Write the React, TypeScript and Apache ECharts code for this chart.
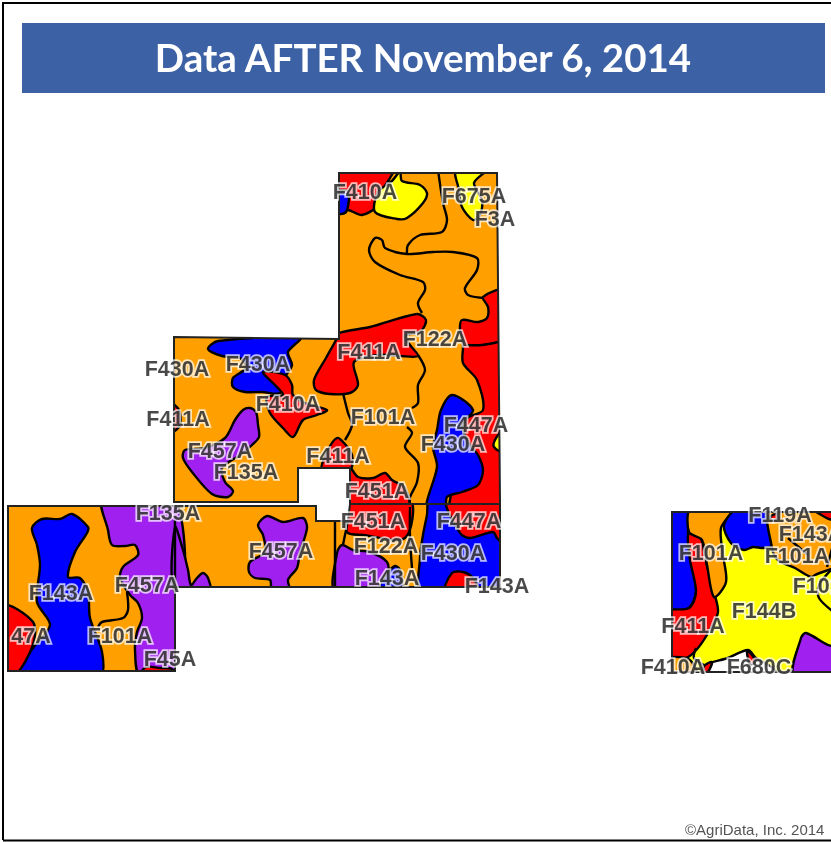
import React, { useEffect, useRef } from "react";
import * as echarts from "echarts";

type Pt = [number, number];
const titleText = "Data AFTER November 6, 2014";
const creditText = "©AgriData, Inc. 2014";

const parcelTop: Pt[] = [[339,173],[497,173],[500,504],[350,504],[350,468],[298,468],[298,502],[174,502],[174,337],[339,339]];
const parcelLower: Pt[] = [[8,506],[316,506],[316,521],[348,521],[350,504],[500,504],[500,587],[175,587],[175,671],[8,671]];
const parcelRight: Pt[] = [[672,512],[840,512],[840,672],[672,672]];
const parcels = [parcelTop, parcelLower, parcelRight];
const parcelSoil = ["orange", "orange", "yellow"];

// [soil, parcel index, outline]
const soilPatches: [string, number, Pt[]][] = [
  ["red", 0, [[335,168],[393,168],[384,188],[376,207],[362,215],[348,210],[335,212]]],
  ["blue", 0, [[335,192],[348,192],[346,212],[335,213]]],
  ["yellow", 0, [[392,181],[400,172],[402,181],[420,185],[427,193],[423,203],[407,218],[397,219],[375,212],[378,192]]],
  ["yellow", 0, [[456,170],[486,170],[474,183],[482,200],[480,215],[473,220],[462,207],[459,190]]],
  ["red", 0, [[505,291],[483,297],[488,307],[487,318],[478,322],[462,320],[460,330],[463,345],[463,363],[477,380],[483,410],[465,420],[450,500],[450,510],[505,510]]],
  ["blue", 0, [[452,395],[473,410],[462,425],[470,445],[478,455],[483,470],[478,485],[462,492],[447,497],[445,510],[426,510],[437,467],[433,447],[437,430],[441,410]]],
  ["yellow", 0, [[503,430],[495,440],[494,447],[503,452]]],
  ["red", 0, [[339,333],[370,327],[417,314],[426,320],[421,331],[405,336],[410,345],[418,356],[400,356],[378,355],[354,362],[358,385],[350,393],[330,394],[316,390],[314,380],[326,358],[336,340]]],
  ["blue", 0, [[208,349],[218,341],[300,338],[288,352],[292,365],[285,377],[280,393],[262,392],[245,392],[233,387],[233,378],[246,368],[240,358],[222,356]]],
  ["red", 0, [[263,372],[285,375],[292,385],[293,395],[305,403],[327,410],[317,415],[303,420],[293,437],[283,428],[270,413],[267,397],[283,395],[275,385]]],
  ["purple", 0, [[250,408],[256,412],[258,425],[259,437],[252,445],[240,455],[222,468],[225,482],[233,491],[228,497],[212,494],[192,472],[183,458],[185,450],[205,448],[225,438],[235,420],[243,410]]],
  ["red", 0, [[170,403],[179,410],[180,425],[170,433]]],
  ["red", 0, [[322,470],[328,450],[337,438],[344,443],[352,455],[350,470]]],
  ["red", 0, [[350,468],[358,477],[373,478],[385,473],[392,480],[405,488],[408,508],[350,508]]],
  ["blue", 1, [[32,528],[42,519],[60,519],[72,514],[88,527],[87,533],[75,552],[68,577],[80,578],[88,592],[90,618],[102,652],[100,675],[15,675],[33,648],[50,625],[37,602],[40,565],[37,545]]],
  ["red", 1, [[4,606],[33,622],[33,645],[15,676],[4,676]]],
  ["purple", 1, [[103,500],[108,530],[112,545],[125,546],[135,545],[138,555],[123,567],[120,578],[130,595],[138,603],[142,618],[137,632],[135,650],[140,676],[176,676],[176,500]]],
  ["red", 1, [[140,676],[146,667],[160,668],[172,669],[176,676]]],
  ["purple", 1, [[175,527],[183,550],[188,570],[191,585],[197,578],[203,573],[208,578],[210,592],[175,592]]],
  ["purple", 1, [[258,525],[267,516],[283,522],[303,518],[307,528],[300,552],[297,568],[288,580],[290,592],[272,592],[270,580],[255,578],[249,572],[250,562],[265,552],[263,535]]],
  ["purple", 1, [[335,592],[337,553],[342,545],[353,550],[370,552],[387,562],[388,575],[380,592]]],
  ["blue", 1, [[378,592],[386,575],[395,566],[400,570],[402,592]]],
  ["blue", 1, [[430,500],[427,515],[423,535],[420,558],[422,592],[505,592],[505,500]]],
  ["red", 1, [[447,500],[460,533],[470,538],[493,532],[497,538],[505,545],[505,500]]],
  ["red", 1, [[445,592],[452,573],[463,572],[473,578],[478,592]]],
  ["red", 1, [[350,500],[347,532],[363,535],[405,538],[410,500]]],
  ["blue", 2, [[665,508],[689,508],[688,532],[694,572],[696,592],[689,608],[672,612],[665,612]]],
  ["red", 2, [[665,612],[689,608],[696,592],[690,560],[688,535],[694,532],[701,538],[706,562],[714,592],[718,612],[711,628],[698,648],[686,658],[665,660]]],
  ["orange", 2, [[691,508],[733,508],[721,528],[723,555],[726,582],[714,597],[707,565],[702,540],[689,532]]],
  ["orange", 2, [[665,659],[686,658],[694,665],[697,678],[665,678]]],
  ["blue", 2, [[724,525],[738,508],[769,508],[773,545],[764,548],[753,547],[744,550],[731,543]]],
  ["orange", 2, [[770,508],[845,508],[845,560],[815,575],[811,577],[795,568],[778,560],[772,548]]],
  ["red", 2, [[811,508],[818,513],[829,519],[845,522],[845,508]]],
  ["red", 2, [[771,516],[777,514],[777,519],[771,520]]],
  ["purple", 2, [[794,676],[801,638],[806,633],[828,645],[845,650],[845,676]]],
  ["white", 2, [[704,666],[728,658],[748,650],[756,658],[775,670],[775,682],[704,682]]],
  ["red", 2, [[747,651],[752,655],[755,662],[750,664]]],
  ["red", 2, [[704,666],[712,662],[708,672],[704,672]]],
];

const soilLines: [number, Pt[]][] = [
  [0, [[438,170],[443,203],[447,220],[442,232],[420,235],[408,245],[407,253]]],
  [0, [[422,313],[418,303],[425,290],[423,282],[400,275],[375,262],[369,250],[375,238],[382,240],[385,248],[407,254],[433,252],[453,252],[477,258],[477,270],[465,288],[468,295],[483,298]]],
  [0, [[467,345],[482,345],[498,342]]],
  [0, [[418,355],[425,370],[418,385],[418,403],[412,408]]],
  [0, [[407,427],[412,433],[405,447],[418,463],[417,482],[410,497],[410,503]]],
  [0, [[343,393],[348,413],[352,425],[345,440]]],
  [1, [[127,592],[128,610],[123,618],[102,622],[98,627]]],
  [1, [[410,507],[410,538],[412,568]]],
  [1, [[348,521],[345,535],[343,545]]],
  [1, [[335,522],[335,590]]],
  [1, [[175,520],[175,590]]],
  [2, [[788,538],[808,555]]],
  [2, [[833,545],[827,567]]],
  [2, [[835,566],[819,585],[819,598],[835,613]]],
  [2, [[696,648],[694,658],[704,665]]],
];

const soilLabels: [string, number, number][] = [
  ["F410A",365,192],["F675A",474,196],["F3A",495,219],["F122A",435,339],["F411A",369,352],
  ["F430A",177,369],["F430A",258,364],["F410A",288,404],["F411A",178,419],["F101A",383,417],
  ["F447A",476,425],["F430A",453,444],["F457A",220,451],["F135A",246,472],["F411A",338,456],
  ["F451A",377,491],["F135A",168,513],["F451A",373,521],["F447A",469,521],["F122A",386,546],
  ["F430A",453,553],["F457A",281,551],["F143A",387,578],["F143A",497,586],["F143A",61,593],
  ["F457A",147,585],["47A",31,636],["F101A",120,636],["F45A",170,659],["F119A",780,515],
  ["F143A",811,534],["F101A",797,556],["F101A",825,586],["F101A",711,553],["F144B",764,611],
  ["F411A",693,626],["F410A",673,667],["F680C",759,667],
];

const soilColors: Record<string, string> = {
  orange: "#ffa000", red: "#ff0000", blue: "#0000ff", yellow: "#ffff00", purple: "#a020f0", white: "#ffffff",
};

type Shape = { fill: string | null; clip: number; pts: Pt[]; kind: "base" | "patch" | "line" | "edge" };
const shapes: Shape[] = [
  ...parcels.map((p, i) => ({ fill: soilColors[parcelSoil[i]], clip: i, pts: p, kind: "base" as const })),
  ...soilPatches.map(([s, c, pts]) => ({ fill: soilColors[s], clip: c, pts, kind: "patch" as const })),
  ...soilLines.map(([c, pts]) => ({ fill: null, clip: c, pts, kind: "line" as const })),
  ...parcels.map((p, i) => ({ fill: null, clip: -1, pts: p, kind: "edge" as const })),
];

export default function App() {
  const ref = useRef<HTMLDivElement>(null);
  useEffect(() => {
    document.body.style.margin = "0";
    const chart = echarts.init(ref.current!, undefined, { renderer: "svg" });
    chart.setOption({
      animation: false,
      backgroundColor: "#ffffff",
      grid: { left: 0, right: 0, top: 0, bottom: 0 },
      xAxis: { type: "value", min: 0, max: 831, show: false },
      yAxis: { type: "value", min: 0, max: 842, inverse: true, show: false },
      title: {
        text: titleText,
        left: 418,
        top: 32,
        textAlign: "center",
        textStyle: { color: "#fff", fontFamily: "Lato", fontWeight: "bold", fontSize: 38.5 },
        z: 10,
      },
      graphic: [
        { type: "rect", z: 0, shape: { x: 22, y: 23, width: 803, height: 70 }, style: { fill: "#3c61a5" } },
        { type: "polyline", z: 9, shape: { points: [[3, 840], [3, 3], [831, 3]] }, style: { stroke: "#000", lineWidth: 2, fill: "none" } },
        { type: "line", z: 9, shape: { x1: 3, y1: 840.5, x2: 831, y2: 840.5 }, style: { stroke: "#000", lineWidth: 2 } },
        { type: "text", z: 9, x: 685, y: 822, style: { text: creditText, fill: "#555", font: "15px 'Liberation Sans'" } },
      ],
      series: [
        {
          type: "custom",
          coordinateSystem: "cartesian2d",
          clip: false,
          z: 2,
          data: shapes.map(() => [0, 0]),
          renderItem: (params: any, api: any) => {
            const s = shapes[params.dataIndex];
            const points = s.pts.map((p) => api.coord(p));
            const clipPath = s.clip >= 0
              ? { type: "polygon", shape: { points: parcels[s.clip].map((p) => api.coord(p)) } }
              : undefined;
            if (s.kind === "line") {
              return { type: "polyline", clipPath, shape: { points, smooth: 0.3 }, style: { fill: "none", stroke: "#000", lineWidth: 2.4 } };
            }
            if (s.kind === "edge") {
              return { type: "polygon", shape: { points }, style: { fill: "none", stroke: "#222", lineWidth: 2 } };
            }
            if (s.kind === "base") {
              return { type: "polygon", shape: { points }, style: { fill: s.fill, stroke: "none" } };
            }
            return { type: "polygon", clipPath, shape: { points, smooth: 0.3 }, style: { fill: s.fill, stroke: "#000", lineWidth: 2.4 } };
          },
        },
        {
          type: "scatter",
          symbolSize: 0,
          z: 5,
          silent: true,
          clip: false,
          data: soilLabels.map(([name, x, y]) => ({ name, value: [x, y] })),
          label: {
            show: true,
            position: "inside",
            formatter: "{b}",
            color: "#1c1c1c",
            fontFamily: "Liberation Sans",
            fontWeight: "bold",
            fontSize: 21.5,
            textBorderColor: "rgba(255,255,255,0.9)",
            textBorderWidth: 3.5,
          },
        },
      ],
    });
    return () => chart.dispose();
  }, []);
  return <div ref={ref} style={{ position: "fixed", left: 0, top: 0, width: 831, height: 842, filter: "blur(0.5px)" }} />;
}
